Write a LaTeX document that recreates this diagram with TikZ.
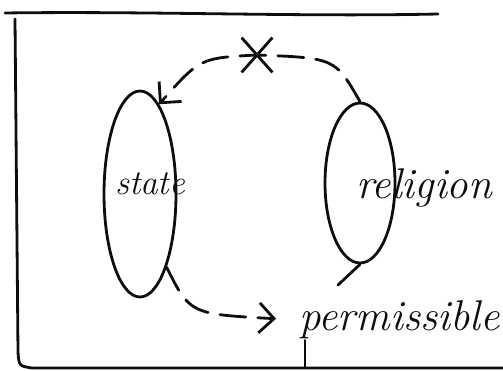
\documentclass[tikz,border=0pt]{standalone}
\usepackage{fontspec}
\usepackage{tikz}
\usetikzlibrary{arrows.meta,positioning,shapes.geometric,shapes.misc}
\definecolor{inkdark}{RGB}{14,14,14}
\tikzset{
  ink/.style={draw=inkdark, line width=2.8pt, line cap=round},
  blob/.style={ellipse, draw=inkdark, line width=2.8pt, inner sep=0pt},
  word/.style={inkdark, font=\fontsize{35}{38}\selectfont\itshape, inner sep=1pt},
  bigword/.style={word, font=\fontsize{43}{45}\selectfont\itshape},
  dasharr/.style={-{Straight Barb[length=15pt,width=30pt,line width=2.8pt]}, inkdark,
    line width=2.8pt, dash pattern=on 26pt off 12pt, line cap=round},
  crossmark/.style={cross out, draw=inkdark, line width=2.8pt, minimum width=28pt,
    minimum height=32pt, inner sep=0pt}
}
\begin{document}
\begin{tikzpicture}[x=1pt,y=-1pt]
  \useasboundingbox (0,0) rectangle (503,371);
  % frame
  \draw[ink] (5,13) .. controls (150,11) and (300,17) .. (438,14);
  \draw[ink] (15,19) -- (18,352) .. controls (19,366) .. (32,368) -- (503,368);
  % the two sides
  \node[blob, minimum width=72pt, minimum height=206pt] (state) at (140,194) {};
  \node[blob, minimum width=70pt, minimum height=160pt] (religion) at (360,183) {};
  \node[word] (statetxt) at (150,184) {state};
  \node[bigword] (religiontxt) at (424,188) {religion};
  \node[bigword, anchor=west] (permissible) at (298,320) {permissible};
  \node[crossmark] (nope) at (257,55) {};
  \coordinate (stub) at (338,285);
  \coordinate (base) at (305,368);
  % links
  \draw[dasharr] (religion.north) .. controls (335,58) .. (nope.center)
    .. controls (200,58) .. (state.78);
  \draw[dasharr, shorten >=22pt] (state.-70) .. controls (190,314) .. (permissible.west);
  \draw[ink] (religion.south) -- (stub);
  \draw[ink] ([xshift=7pt]permissible.south west) -- (base);
\end{tikzpicture}
\end{document}
